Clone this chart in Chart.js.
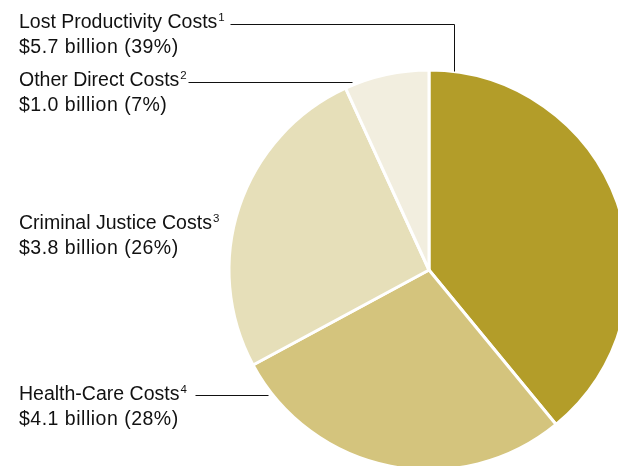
<!DOCTYPE html>
<html lang="en">
<head>
    <meta charset="UTF-8">
    <title>Costs Breakdown</title>
    <script src="https://cdn.jsdelivr.net/npm/chart.js"></script>
    <style>
        html, body {
            margin: 0;
            padding: 0;
            background-color: white;
            overflow: hidden;
            width: 618px;
            height: 466px;
        }

        #wrap {
            position: absolute;
            left: 0;
            top: 0;
            width: 700px;
            height: 500px;
        }
    </style>
</head>
<body>
    <div id="wrap"><canvas id="costChart"></canvas></div>

    <script>
        // slices, clockwise from the top
        const categories = ['Lost Productivity Costs', 'Health-Care Costs', 'Criminal Justice Costs', 'Other Direct Costs'];
        const billions = [5.7, 4.1, 3.8, 1.0];
        const percents = [39, 28, 26, 7];
        const notes = ['1', '4', '3', '2'];
        const colors = ['#b39d29', '#d4c47d', '#e6dfb9', '#f2eedf'];

        // label text anchors (left x, baseline of first line) and leader lines
        const labelPos = [
            { x: 19, y: 28, line: [[230, 24], [454, 24], [454, 71]] },
            { x: 19, y: 400, line: [[195, 395], [268, 395]] },
            { x: 19, y: 229, line: null },
            { x: 19, y: 86, line: [[188, 82], [352, 82]] }
        ];

        const FONT = '"Liberation Sans", Arial, sans-serif';

        const calloutPlugin = {
            id: 'callouts',
            afterDraw(chart) {
                const ctx = chart.ctx;
                ctx.save();
                ctx.fillStyle = '#111111';
                ctx.strokeStyle = '#111111';
                ctx.lineWidth = 1;
                ctx.textBaseline = 'alphabetic';
                categories.forEach((name, i) => {
                    const p = labelPos[i];
                    ctx.letterSpacing = '0px';
                    ctx.font = '19.5px ' + FONT;
                    ctx.fillText(name, p.x, p.y);
                    const w = ctx.measureText(name).width;
                    ctx.font = '11.5px ' + FONT;
                    ctx.fillText(notes[i], p.x + w + 1, p.y - 7);
                    ctx.font = '19.5px ' + FONT;
                    ctx.letterSpacing = '0.5px';
                    ctx.fillText('$' + billions[i].toFixed(1) + ' billion (' + percents[i] + '%)', p.x, p.y + 25);
                    if (p.line) {
                        // half-pixel offset keeps the leader lines crisp
                        ctx.beginPath();
                        ctx.moveTo(p.line[0][0] + 0.5, p.line[0][1] + 0.5);
                        for (let k = 1; k < p.line.length; k++) {
                            ctx.lineTo(p.line[k][0] + 0.5, p.line[k][1] + 0.5);
                        }
                        ctx.stroke();
                    }
                });
                ctx.restore();
            }
        };

        const ctx = document.getElementById('costChart').getContext('2d');
        new Chart(ctx, {
            type: 'pie',
            data: {
                labels: categories,
                datasets: [{
                    data: billions,
                    backgroundColor: colors,
                    borderColor: '#ffffff',
                    borderWidth: 3,
                    hoverOffset: 0
                }]
            },
            options: {
                responsive: true,
                maintainAspectRatio: false,
                animation: false,
                radius: 200,
                layout: {
                    padding: { left: 229, top: 70, right: 71, bottom: 30 }
                },
                plugins: {
                    legend: { display: false },
                    tooltip: { enabled: false }
                },
                events: []
            },
            plugins: [calloutPlugin]
        });
    </script>
</body>
</html>
